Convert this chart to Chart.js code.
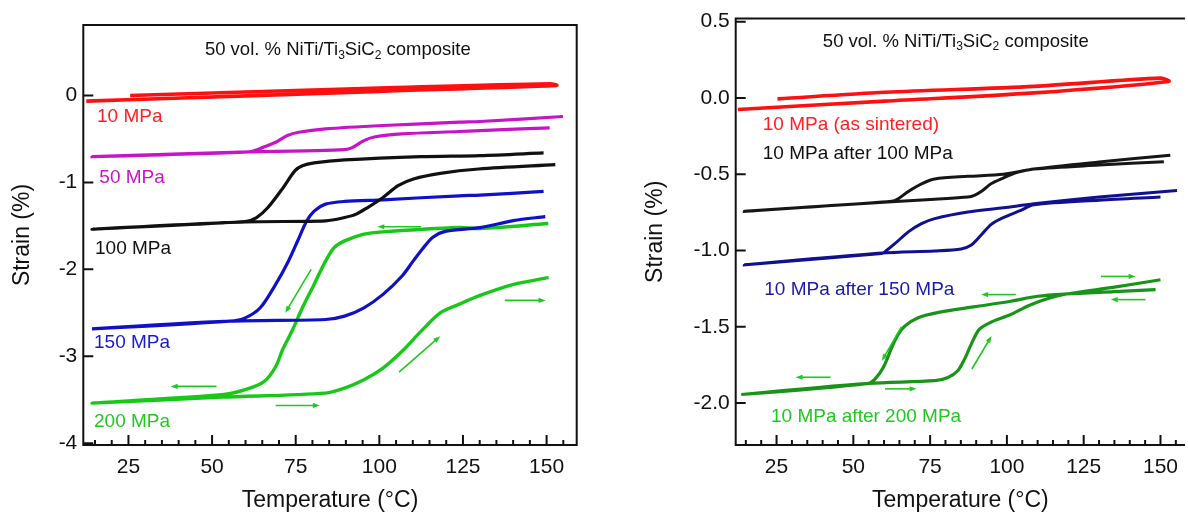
<!DOCTYPE html>
<html lang="en">
<head>
<meta charset="UTF-8">
<title>50 vol. % NiTi/Ti3SiC2 composite - strain vs temperature</title>
<script src="https://cdn.jsdelivr.net/npm/chart.js@4.4.1/dist/chart.umd.min.js"></script>
<style>
  html, body { margin: 0; padding: 0; background: #fff; }
  #wrap { position: relative; width: 1188px; height: 514px; overflow: hidden; }
  #left { position: absolute; left: 0; top: 0; width: 600px; height: 514px; }
  #right { position: absolute; left: 600px; top: 0; width: 588px; height: 514px; }
</style>
</head>
<body>
<div id="wrap">
  <div id="left"><canvas id="chartLeft" width="600" height="514"></canvas></div>
  <div id="right"><canvas id="chartRight" width="588" height="514"></canvas></div>
</div>
<script>
// Left panel: cycles under constant stress (cooling branch first, then heating)
const temp10 = [25.5, 60, 100, 151, 153, 100, 60, 12.4];
const strain10 = [0.00, 0.04, 0.085, 0.135, 0.115, 0.047, -0.005, -0.066];

const temp50 = [154.9, 130.1, 123.9, 101.1, 83.9, 75.9, 72.5, 69.0, 65.6, 63.5, 61, 14.1,
  61, 78.2, 89.6, 91.9, 95.4, 98.8, 106.8, 123.9, 130.1, 150.9];
const strain50 = [-0.242, -0.300, -0.308, -0.346, -0.385, -0.423, -0.461, -0.539, -0.59, -0.625, -0.648, -0.704,
  -0.65, -0.637, -0.624, -0.60, -0.52, -0.475, -0.442, -0.415, -0.404, -0.373];

const temp100 = [149.1, 130.1, 112.5, 89.6, 80.5, 77.0, 74.8, 71.3, 66.7, 63.3, 59.9, 14.1,
  59.9, 83.9, 89.6, 93.1, 96.5, 101.1, 105.6, 110.2, 118.2, 129.7, 152.6];
const strain100 = [-0.661, -0.692, -0.704, -0.742, -0.776, -0.808, -0.865, -1.058, -1.289, -1.404, -1.45, -1.538,
  -1.455, -1.442, -1.404, -1.365, -1.289, -1.173, -1.038, -0.961, -0.896, -0.846, -0.796];

const temp150 = [149.1, 130.1, 123.9, 101.1, 89.6, 83.9, 80.5, 78.2, 75.5, 72.5, 69.0, 64.4, 59.9, 55.3, 14.1,
  55.3, 83.9, 89.6, 95.4, 101.1, 106.8, 110.2, 113, 116, 120, 130.1, 140.1, 149.6];
const strain150 = [-1.104, -1.146, -1.154, -1.200, -1.219, -1.250, -1.33, -1.45, -1.68, -1.93, -2.173, -2.442, -2.558, -2.596, -2.685,
  -2.596, -2.577, -2.538, -2.442, -2.288, -2.077, -1.90, -1.76, -1.63, -1.56, -1.52, -1.44, -1.393];

const temp200 = [150.5, 130.1, 123.9, 101.1, 95.4, 89.6, 86.5, 84, 80.5, 77.0, 74.0, 71.0, 69.0, 65.6, 59.9, 53.0, 14.1,
  53.0, 83.9, 89.6, 95.4, 101.1, 106.8, 112.5, 118.2, 123.9, 130.1, 140.1, 150.6];
const strain200 = [-1.473, -1.53, -1.519, -1.569, -1.596, -1.673, -1.75, -1.90, -2.173, -2.442, -2.70, -2.93, -3.12, -3.288, -3.384, -3.442, -3.539,
  -3.47, -3.423, -3.365, -3.269, -3.135, -2.942, -2.711, -2.50, -2.40, -2.30, -2.173, -2.096];

// Right panel: 10 MPa runs, as sintered and after training
const tempSint = [25.3, 60.3, 108.8, 150, 152.7, 108.8, 60.3, 12.4];
const strainSint = [-0.006, 0.037, 0.076, 0.13, 0.108, 0.033, -0.021, -0.076];

const tempAfter100 = [153.2, 130, 108.8, 98.9, 87.3, 76.5, 72.2, 67.9, 64.6, 62.5, 14.5,
  62.5, 76.5, 87.3, 89.4, 92.1, 94.8, 98.1, 103.4, 108.8, 130, 151.1];
const strainAfter100 = [-0.375, -0.42, -0.466, -0.50, -0.514, -0.531, -0.563, -0.613, -0.661, -0.678, -0.743,
  -0.68, -0.664, -0.65, -0.639, -0.607, -0.563, -0.531, -0.488, -0.466, -0.44, -0.418];

const tempAfter150 = [155.4, 130, 108.8, 98.9, 87.3, 76.5, 72.2, 67.9, 63.6, 60.3, 59.3, 14.5,
  59.3, 76.5, 85.1, 88.4, 91.6, 94.8, 98.1, 104.5, 108.8, 130, 150];
const strainAfter150 = [-0.607, -0.65, -0.694, -0.72, -0.748, -0.791, -0.824, -0.878, -0.954, -1.008, -1.019, -1.094,
  -1.017, -1.003, -0.99, -0.964, -0.899, -0.83, -0.791, -0.737, -0.70, -0.67, -0.65];

const tempAfter200 = [148.4, 135, 119.4, 110, 101.2, 89.1, 77, 71.1, 66.8, 64.6, 62.5, 59.8, 57.1, 55, 13.5,
  55, 76.5, 80.8, 84, 86.2, 88.4, 91, 94.8, 101.2, 107.2, 113.4, 119.4, 135, 150];
const strainAfter200 = [-1.257, -1.27, -1.285, -1.30, -1.333, -1.37, -1.409, -1.441, -1.495, -1.55, -1.636, -1.766, -1.842, -1.871, -1.944,
  -1.871, -1.853, -1.832, -1.788, -1.712, -1.614, -1.517, -1.47, -1.42, -1.36, -1.315, -1.285, -1.24, -1.192];

const xTickValues = [25, 50, 75, 100, 125, 150];
const yTicksLeft = [0, -1, -2, -3, -4];
const yTicksRight = [0.5, 0, -0.5, -1, -1.5, -2];

// direction arrows, [fromT, fromStrain, toT, toStrain]
const arrowsLeft = [
  [112.5, -1.51, 99.4, -1.51],
  [79.6, -2.0, 71.9, -2.5],
  [51.3, -3.346, 37.6, -3.346],
  [69.0, -3.565, 82.2, -3.565],
  [105.9, -3.181, 118.2, -2.769],
  [137.5, -2.357, 149.7, -2.357]
];
const arrowsRight = [
  [65.7, -1.50, 59.3, -1.723],
  [42.6, -1.831, 31.2, -1.831],
  [60.3, -1.907, 70.6, -1.907],
  [88.6, -1.777, 95.0, -1.56],
  [102.9, -1.289, 91.6, -1.289],
  [130.6, -1.17, 141.9, -1.17],
  [145.1, -1.322, 133.8, -1.322]
];

const FONT = '"Liberation Sans", Arial, Helvetica, sans-serif';
const ARROW = '#22c822';

// text placed in data coordinates
const notesLeft = [
  {text: '10 MPa', x: 15.6, y: -0.25, color: '#ff2020'},
  {text: '50 MPa', x: 16.3, y: -0.943, color: '#c814c8'},
  {text: '100 MPa', x: 15.0, y: -1.769, color: '#111111'},
  {text: '150 MPa', x: 14.7, y: -2.846, color: '#1a1ad0'},
  {text: '200 MPa', x: 14.7, y: -3.75, color: '#22c822'}
];
const notesRight = [
  {text: '10 MPa (as sintered)', x: 20.5, y: -0.174, color: '#ff2020'},
  {text: '10 MPa after 100 MPa', x: 20.5, y: -0.364, color: '#111111'},
  {text: '10 MPa after 150 MPa', x: 21.0, y: -1.257, color: '#1a1aa8'},
  {text: '10 MPa after 200 MPa', x: 23.2, y: -2.087, color: '#22c822'}
];

const decor = {
  chartLeft: {box: true, arrows: arrowsLeft, notes: notesLeft, title: {x: 47.85, y: 0.519}},
  chartRight: {box: false, arrows: arrowsRight, notes: notesRight, title: {x: 40.07, y: 0.369}}
};

function pts(ts, ss) {
  return ts.map((t, i) => ({x: t, y: ss[i]}));
}

function series(ts, ss, color, width) {
  return {
    data: pts(ts, ss), showLine: true, fill: false,
    borderColor: color, backgroundColor: color, borderWidth: width,
    pointRadius: 0, pointHoverRadius: 0, tension: 0.3
  };
}

function drawArrow(ctx, x1, y1, x2, y2) {
  const ang = Math.atan2(y2 - y1, x2 - x1);
  const len = 7, half = 2.6;
  ctx.beginPath();
  ctx.moveTo(x1, y1);
  ctx.lineTo(x2 - Math.cos(ang) * len * 0.6, y2 - Math.sin(ang) * len * 0.6);
  ctx.stroke();
  ctx.beginPath();
  ctx.moveTo(x2, y2);
  ctx.lineTo(x2 - Math.cos(ang) * len - Math.sin(ang) * half, y2 - Math.sin(ang) * len + Math.cos(ang) * half);
  ctx.lineTo(x2 - Math.cos(ang) * len + Math.sin(ang) * half, y2 - Math.sin(ang) * len - Math.cos(ang) * half);
  ctx.closePath();
  ctx.fill();
}

const framePlugin = {
  id: 'frame',
  afterDatasetsDraw(chart) {
    const d = decor[chart.canvas.id];
    const {ctx, chartArea: a} = chart;
    const xs = chart.scales.x, ys = chart.scales.y;
    ctx.save();

    // axes frame
    ctx.strokeStyle = '#111';
    ctx.lineWidth = 2;
    ctx.beginPath();
    if (d.box) {
      ctx.rect(a.left, a.top, a.right - a.left, a.bottom - a.top);
    } else {
      ctx.moveTo(a.right, a.top);
      ctx.lineTo(a.left, a.top);
      ctx.lineTo(a.left, a.bottom);
      ctx.lineTo(a.right, a.bottom);
    }
    ctx.stroke();

    // inward ticks, minor every 5 degrees
    ctx.beginPath();
    for (let t = 15; t <= 155; t += 5) {
      if (t < xs.min || t > xs.max) continue;
      const px = xs.getPixelForValue(t);
      const len = t % 25 === 0 ? 10 : 5;
      ctx.moveTo(px, a.bottom);
      ctx.lineTo(px, a.bottom - len);
    }
    ys.ticks.forEach(tk => {
      const py = ys.getPixelForValue(tk.value);
      ctx.moveTo(a.left, py);
      ctx.lineTo(a.left + 10, py);
    });
    ctx.stroke();

    // direction arrows
    ctx.strokeStyle = ARROW;
    ctx.fillStyle = ARROW;
    ctx.lineWidth = 1.6;
    d.arrows.forEach(([t1, s1, t2, s2]) => {
      drawArrow(ctx, xs.getPixelForValue(t1), ys.getPixelForValue(s1),
        xs.getPixelForValue(t2), ys.getPixelForValue(s2));
    });

    // curve labels
    ctx.textBaseline = 'middle';
    ctx.textAlign = 'left';
    ctx.font = '19px ' + FONT;
    d.notes.forEach(n => {
      ctx.fillStyle = n.color;
      ctx.fillText(n.text, xs.getPixelForValue(n.x), ys.getPixelForValue(n.y));
    });

    // panel title with subscripts
    const runs = [['50 vol. % NiTi/Ti', false], ['3', true], ['SiC', false], ['2', true], [' composite', false]];
    let px = xs.getPixelForValue(d.title.x);
    const py = ys.getPixelForValue(d.title.y);
    ctx.fillStyle = '#111';
    runs.forEach(([txt, sub]) => {
      ctx.font = (sub ? '12px ' : '18.5px ') + FONT;
      ctx.fillText(txt, px, sub ? py + 5 : py);
      px += ctx.measureText(txt).width;
    });
    ctx.restore();
  }
};

function makeChart(id, datasets, opt) {
  return new Chart(document.getElementById(id), {
    type: 'scatter',
    data: {datasets},
    options: {
      responsive: false,
      animation: false,
      layout: {padding: opt.padding},
      plugins: {legend: {display: false}, tooltip: {enabled: false}},
      scales: {
        x: {
          type: 'linear', min: opt.xMin, max: opt.xMax,
          grid: {display: false, drawTicks: false},
          border: {display: false},
          afterBuildTicks: s => { s.ticks = xTickValues.map(v => ({value: v})); },
          afterFit: s => { s.height = 69; },
          ticks: {color: '#111', font: {size: 21, family: FONT}, padding: 10, maxRotation: 0, autoSkip: false},
          title: {display: true, text: 'Temperature (°C)', color: '#111',
            font: {size: 23, family: FONT}, padding: {top: 0, bottom: 0}}
        },
        y: {
          type: 'linear', min: opt.yMin, max: opt.yMax,
          grid: {display: false, drawTicks: false},
          border: {display: false},
          afterBuildTicks: s => { s.ticks = opt.yTicks.map(v => ({value: v})); },
          afterFit: s => { s.width = opt.yWidth; },
          ticks: {color: '#111', font: {size: 21, family: FONT}, padding: 6, autoSkip: false,
            callback: opt.yFormat},
          title: {display: true, text: 'Strain (%)', color: '#111',
            font: {size: 23, family: FONT}, padding: {top: opt.yTitlePad, bottom: 0}}
        }
      }
    },
    plugins: [framePlugin]
  });
}

makeChart('chartLeft', [
  series(temp10, strain10, '#ff1010', 3.6),
  series(temp50, strain50, '#c814c8', 3.2),
  series(temp100, strain100, '#111111', 3.2),
  series(temp150, strain150, '#1010c8', 3.2),
  series(temp200, strain200, '#18c818', 3.4)
], {
  padding: {left: 0, top: 25, right: 23.3, bottom: 0},
  xMin: 11.5, xMax: 159, yMin: -4.02, yMax: 0.81,
  yTicks: yTicksLeft, yWidth: 83.3, yTitlePad: 8.7,
  yFormat: v => String(v)
});

makeChart('chartRight', [
  series(tempSint, strainSint, '#ff1010', 3.6),
  series(tempAfter100, strainAfter100, '#161616', 3.0),
  series(tempAfter150, strainAfter150, '#101090', 3.0),
  series(tempAfter200, strainAfter200, '#189418', 3.2)
], {
  padding: {left: 0, top: 15, right: 0, bottom: 0},
  xMin: 11.7, xMax: 158, yMin: -2.275, yMax: 0.52,
  yTicks: yTicksRight, yWidth: 135.7, yTitlePad: 42.2,
  yFormat: v => v.toFixed(1)
});
</script>
</body>
</html>
